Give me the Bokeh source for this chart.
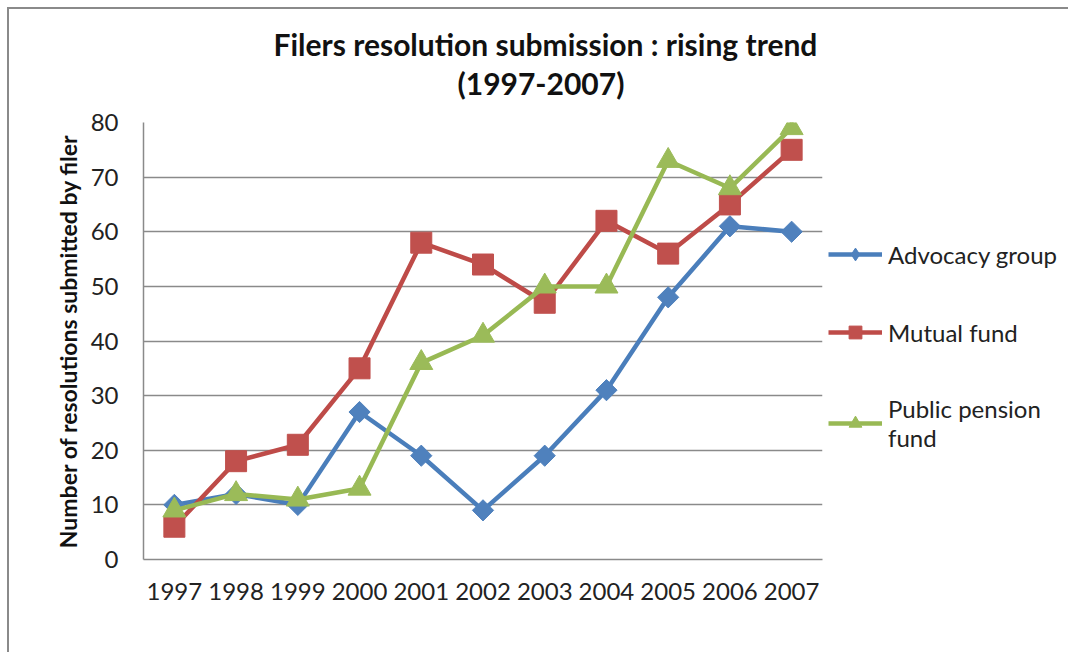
import math
from bokeh.plotting import figure
from bokeh.models import Legend, LegendItem, FactorRange, Range1d, SingleIntervalTicker, Title
from bokeh.embed import file_html
from bokeh.resources import INLINE

years = ["1997", "1998", "1999", "2000", "2001", "2002", "2003", "2004", "2005", "2006", "2007"]
advocacy = [10, 12, 10, 27, 19, 9, 19, 31, 48, 61, 60]
mutual = [6, 18, 21, 35, 58, 54, 47, 62, 56, 65, 75]
pension = [9, 12, 11, 13, 36, 41, 50, 50, 73, 68, 79]
series_names = ["Advocacy group", "Mutual fund", "Public pension\nfund"]
title_lines = ["Filers resolution submission : rising trend", "(1997-2007)"]

FONT = "Lato"

p = figure(frame_width=679, frame_height=437, x_range=FactorRange(*years), y_range=Range1d(0, 80),
           output_backend="svg", toolbar_location=None,
           min_border_left=134, min_border_right=245, min_border_top=113, min_border_bottom=93,
           title=title_lines[0])
p.styles = {"border-left": "2px solid #8a8a8a", "border-top": "2px solid #8a8a8a",
            "margin-left": "7px", "margin-top": "7px"}
p.outline_line_color = None
p.background_fill_color = "white"
p.border_fill_color = "white"

def style_title(t, standoff, offset, size="30px"):
    t.align = "left"
    t.offset = offset
    t.text_font = FONT
    t.text_font_size = size
    t.text_font_style = "bold"
    t.text_color = "#111111"
    t.standoff = standoff

style_title(p.title, 0, 130)
# spacer between the frame and the second title line
spacer = Title(text=" ")
style_title(spacer, 18, 0, size="1px")
p.add_layout(spacer, "above")
t2 = Title(text=title_lines[1])
style_title(t2, 2, 314)
p.add_layout(t2, "above")

# axes
p.yaxis.ticker = SingleIntervalTicker(interval=10)
p.yaxis.axis_label = "Number of resolutions submitted by filer"
p.yaxis.axis_label_text_font = FONT
p.yaxis.axis_label_text_font_style = "bold"
p.yaxis.axis_label_text_font_size = "23px"
p.yaxis.axis_label_text_color = "#111111"
p.yaxis.axis_label_standoff = 6
for ax in (p.xaxis, p.yaxis):
    ax.major_label_text_font = FONT
    ax.major_label_text_font_size = "24px"
    ax.major_label_text_color = "#222222"
    ax.axis_line_color = "#8a8a8a"
    ax.axis_line_width = 1.5
    ax.major_tick_line_color = None
    ax.minor_tick_line_color = None
    ax.major_tick_out = 0
    ax.major_tick_in = 0
p.yaxis.major_label_standoff = 21
p.xaxis.major_label_standoff = 23

p.xgrid.grid_line_color = None
p.ygrid.grid_line_color = "#8a8a8a"
p.ygrid.grid_line_width = 1.5

colors_line = ["#4A7EBB", "#BE4B48", "#98B954"]
colors_fill = ["#4F81BD", "#C0504D", "#9BBB59"]
data = [advocacy, mutual, pension]
legend_markers = ["diamond", "square", "triangle"]
markers = ["square", "square", "triangle"]
angles = [math.pi / 4, 0, 0]
sizes = [15, 21, 23]

items = []
for vals, cl, cf, lmk, mk, ang, sz, name in zip(data, colors_line, colors_fill, legend_markers,
                                                 markers, angles, sizes, series_names):
    l = p.line(years, vals, line_color=cl, line_width=4.5)
    # marker shape used for the legend (hidden under the plotted marker)
    lm = p.scatter(years, vals, marker=lmk, size=min(sz, 14), fill_color=cf, line_color=cf)
    m = p.scatter(years, vals, marker=mk, angle=ang, size=sz, fill_color=cf, line_color=cf)
    items.append(LegendItem(label=name, renderers=[l, lm]))

legend = Legend(items=items, location=(6, 107), orientation="vertical")
legend.label_text_font = FONT
legend.label_text_font_size = "24px"
legend.label_text_color = "#222222"
legend.glyph_width = 54
legend.glyph_height = 32
legend.label_standoff = 6
legend.spacing = 46
legend.padding = 0
legend.margin = 0
legend.border_line_color = None
legend.background_fill_alpha = 0
p.add_layout(legend, "right")

open("out.html", "w").write(file_html(p, INLINE))
